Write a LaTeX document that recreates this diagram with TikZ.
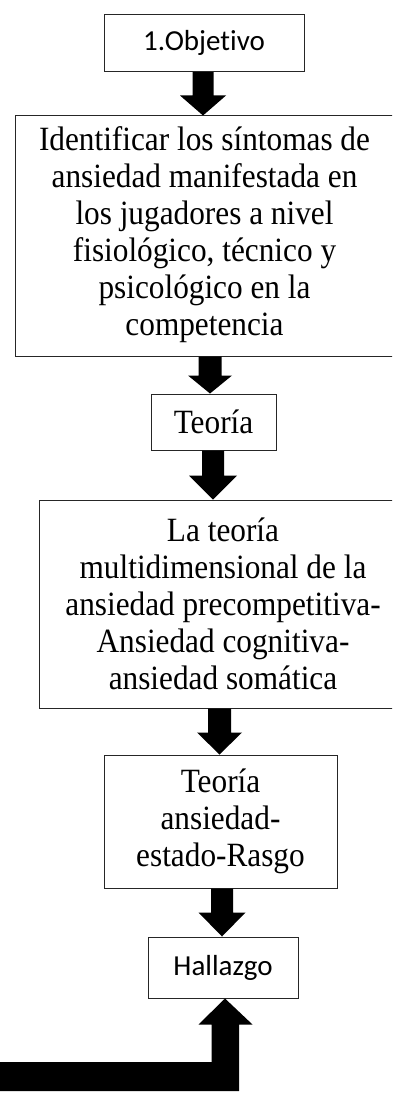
\documentclass[tikz,border=0pt]{standalone}
\usepackage{fontspec}
\setmainfont{Liberation Serif}[FakeStretch=0.92]
\newfontfamily\calib{Carlito}[Ligatures=CommonOff]
\usetikzlibrary{calc}
\tikzset{
  box/.style={draw=black!85, line width=1pt, fill=white, inner sep=0pt, align=center},
  serif/.style={font=\fontsize{34}{37}\selectfont},
  sans/.style={font=\calib\fontsize{29}{34}\selectfont},
  blockarrow/.style={fill=black, draw=none}
}
% #1 from node, #2 to node, #3 centre x, #4 shaft half width, #5 head half width, #6 head length
\newcommand\blockdn[6]{%
  \fill[blockarrow] let \p1=(#1.south), \p2=(#2.north) in
    ({#3pt-#4pt},\y1) -- ({#3pt+#4pt},\y1) -- ({#3pt+#4pt},{\y2+#6pt}) --
    ({#3pt+#5pt},{\y2+#6pt}) -- (#3pt,\y2) -- ({#3pt-#5pt},{\y2+#6pt}) --
    ({#3pt-#4pt},{\y2+#6pt}) -- cycle;}
\begin{document}
\begin{tikzpicture}[x=1pt,y=1pt]
\useasboundingbox (0,0) rectangle (392,-1097);
\clip (0,0) rectangle (392,-1097);
\fill[white] (0,0) rectangle (392,-1097);

\node[box,sans,minimum width=200pt,minimum height=57pt] (obj) at (204,-43.2) {1.Objetivo};
\node[box,serif,minimum width=379pt,minimum height=240pt] (ident) at (204.5,-236)
  {\raisebox{-3pt}{\begin{tabular}{@{}c@{}}Identificar los síntomas de\\ansiedad manifestada en\\los jugadores a nivel\\fisiológico, técnico y\\psicológico en la\\competencia\end{tabular}}};
\node[box,serif,minimum width=125pt,minimum height=56pt] (teo) at (213.5,-422) {Teoría};
\node[box,serif,minimum width=368pt,minimum height=208pt] (multi) at (223,-604)
  {La teoría\\multidimensional de la\\ansiedad precompetitiva-\\Ansiedad cognitiva-\\ansiedad somática};
\node[box,serif,minimum width=233pt,minimum height=133pt] (rasgo) at (220.5,-821.5)
  {Teoría\\ansiedad-\\estado-Rasgo};
\node[box,sans,minimum width=150pt,minimum height=61pt] (hall) at (223,-967.5) {Hallazgo};

\blockdn{obj}{ident}{203}{10.5}{23}{20}
\blockdn{ident}{teo}{210}{11.5}{22}{18}
\blockdn{teo}{multi}{213}{11}{24}{24}
\blockdn{multi}{rasgo}{219.5}{11.5}{22.5}{22}
\blockdn{rasgo}{hall}{222}{11}{23.5}{24}

\coordinate (src) at (-5,-1076.5);
\fill[blockarrow] let \p1=(src), \p2=(hall.south) in
  (\x1,{\y1+14.5pt}) -- (211.5pt,{\y1+14.5pt}) -- (211.5pt,{\y2-26pt}) --
  (198.5pt,{\y2-26pt}) -- (225pt,\y2) -- (252.5pt,{\y2-26pt}) --
  (239pt,{\y2-26pt}) -- (239pt,{\y1-14.5pt}) -- (\x1,{\y1-14.5pt}) -- cycle;
\end{tikzpicture}
\end{document}
